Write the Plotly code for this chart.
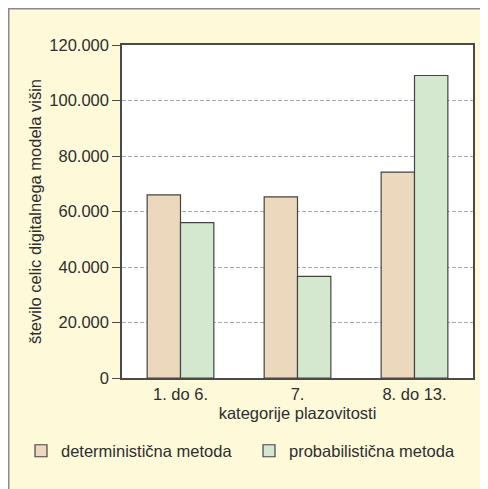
import plotly.graph_objects as go

categories = ["1. do 6.", "7.", "8. do 13."]
deterministicna = [66000, 65300, 74200]
probabilisticna = [56000, 36600, 109000]
tick_vals = [0, 20000, 40000, 60000, 80000, 100000, 120000]
tick_text = ["0", "20.000", "40.000", "60.000", "80.000", "100.000", "120.000"]

# page has an 8px body margin; the figure is drawn 8px in from the window edge
W, H = 480, 481
ML, MR, MT, MB = 114, 15, 37, 111
PW, PH = W - ML - MR, H - MT - MB

def px_x(p):
    return (p - ML) / PW

def px_y(p):
    return (H - MB - p) / PH

FONT = "Liberation Sans, Arial, Helvetica, sans-serif"
TXT = "#2e2e2e"

fig = go.Figure()
fig.add_trace(go.Bar(
    x=categories, y=deterministicna, name="deterministična metoda",
    marker=dict(color="#ecd8bc", line=dict(color="#444444", width=1.2)),
))
fig.add_trace(go.Bar(
    x=categories, y=probabilisticna, name="probabilistična metoda",
    marker=dict(color="#d4e8cf", line=dict(color="#444444", width=1.2)),
))

shapes = [
    dict(type="line", xref="paper", yref="paper", x0=px_x(0), x1=px_x(W), y0=px_y(0.75), y1=px_y(0.75),
         line=dict(color="#8a8a8a", width=1.5)),
    dict(type="line", xref="paper", yref="paper", x0=px_x(0.75), x1=px_x(0.75), y0=px_y(0), y1=px_y(H),
         line=dict(color="#8a8a8a", width=1.5)),
]

fig.update_layout(
    width=W, height=H,
    margin=dict(l=ML, r=MR, t=MT, b=MB),
    paper_bgcolor="#fef9d9",
    plot_bgcolor="white",
    barmode="group",
    bargap=0.43,
    bargroupgap=0,
    font=dict(family=FONT, size=16, color=TXT),
    shapes=shapes,
    showlegend=True,
    legend=dict(
        orientation="h", x=px_x(13), xanchor="left", y=px_y(443), yanchor="middle",
        bgcolor="rgba(0,0,0,0)", font=dict(family=FONT, size=16.5, color=TXT),
        entrywidth=183, entrywidthmode="pixels", traceorder="normal",
    ),
    xaxis=dict(
        title=dict(text="kategorije plazovitosti", font=dict(size=16.5, color=TXT), standoff=6),
        showline=True, linecolor="#4a4a4a", linewidth=1.5, mirror=True,
        ticks="", tickfont=dict(size=16.5, color=TXT), showgrid=False,
        automargin=False,
    ),
    yaxis=dict(
        title=dict(text="število celic digitalnega modela višin", font=dict(size=16.5, color=TXT), standoff=4),
        range=[0, 120000], tickvals=tick_vals, ticktext=tick_text,
        showline=True, linecolor="#4a4a4a", linewidth=1.5, mirror=True,
        ticks="outside", ticklen=8, tickcolor="#4a4a4a", tickwidth=1.2,
        tickfont=dict(size=16.5, color=TXT),
        showgrid=True, gridcolor="#aaaaaa", griddash="4px,2px", gridwidth=1.3,
        zeroline=False, automargin=False,
    ),
)

fig.write_html("out.html")
